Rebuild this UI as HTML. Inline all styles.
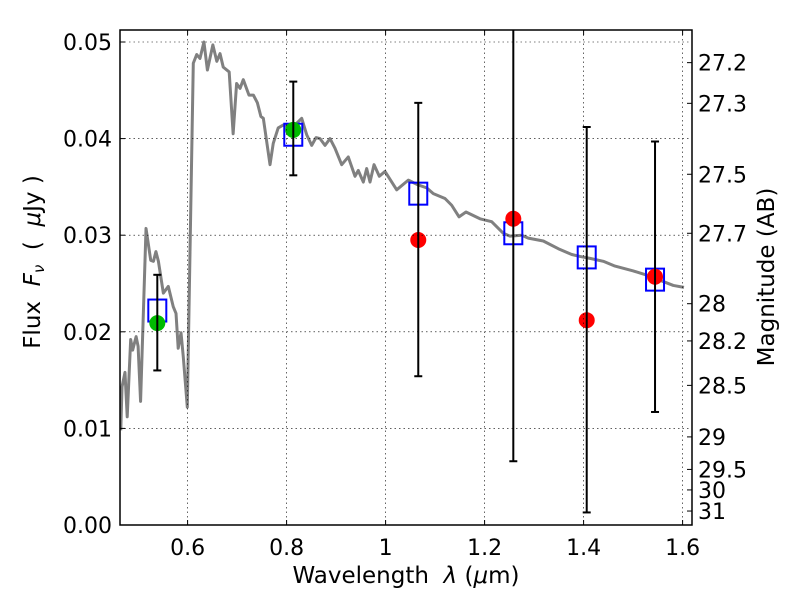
<!DOCTYPE html>
<html><head><meta charset="utf-8"><style>
body{margin:0;background:#fff}
svg text{font-family:"DejaVu Sans","Liberation Sans",sans-serif;fill:#000}
</style></head><body>
<svg id="c" width="800" height="600" viewBox="0 0 800 600" xmlns="http://www.w3.org/2000/svg" style="position:absolute;left:0;top:0"></svg>
<script>
const xTicks=[0.6,0.8,1.0,1.2,1.4,1.6];
const xTickLabels=["0.6","0.8","1","1.2","1.4","1.6"];
const yTicks=[0,0.01,0.02,0.03,0.04,0.05];
const yTickLabels=["0.00","0.01","0.02","0.03","0.04","0.05"];
const magTicks=[27.2,27.3,27.5,27.7,28,28.2,28.5,29,29.5,30,31];
const magTickLabels=["27.2","27.3","27.5","27.7","28","28.2","28.5","29","29.5","30","31"];
const specWave=[0.465,0.4675,0.4735,0.478,0.485,0.489,0.496,0.5,0.505,0.516,0.5255,0.531,0.536,0.541,0.551,0.561,0.571,0.5766,0.581,0.5867,0.5913,0.5994,0.6115,0.6184,0.625,0.633,0.64,0.651,0.659,0.6655,0.672,0.684,0.692,0.699,0.706,0.7125,0.724,0.733,0.741,0.748,0.753,0.7665,0.773,0.783,0.793,0.811,0.8305,0.8406,0.8507,0.8594,0.8675,0.8776,0.8877,0.8978,0.9113,0.9246,0.9382,0.9448,0.955,0.9618,0.9685,0.9766,0.9873,0.9988,1.0224,1.0459,1.066,1.083,1.0964,1.12,1.1335,1.1483,1.1624,1.1907,1.2143,1.2378,1.2513,1.275,1.2883,1.3186,1.3489,1.376,1.3927,1.413,1.4398,1.4634,1.5004,1.5376,1.561,1.5812,1.6028];
const specFlux=[0.0098,0.0143,0.0158,0.0112,0.0192,0.0181,0.0195,0.0185,0.0128,0.0307,0.0274,0.0273,0.0283,0.0273,0.024,0.0247,0.0226,0.0219,0.0183,0.0199,0.0174,0.0122,0.0478,0.0487,0.0483,0.05,0.0471,0.0497,0.048,0.0488,0.0474,0.0469,0.0405,0.0457,0.0452,0.0461,0.0445,0.0445,0.0437,0.0423,0.0421,0.0373,0.0395,0.0411,0.0414,0.0411,0.0421,0.0404,0.0393,0.0401,0.04,0.0393,0.04,0.039,0.0373,0.0381,0.0361,0.0367,0.0355,0.0369,0.0355,0.0373,0.0361,0.0366,0.0347,0.0357,0.0352,0.0349,0.0343,0.0338,0.0331,0.0319,0.0324,0.0317,0.0314,0.0302,0.0299,0.03,0.0297,0.0294,0.0286,0.028,0.0278,0.0276,0.0273,0.0268,0.0263,0.0257,0.0252,0.0248,0.0246];
const bandWave=[0.5388,0.8135,1.066,1.258,1.4063,1.5443];
const modelFlux=[0.0222,0.0404,0.0343,0.0302,0.0277,0.0254];
const obsFlux=[0.0209,0.0409,0.0295,0.0317,0.0212,0.0257];
const obsColor=["#00bb00","#00bb00","red","red","red","red"];
const errLow=[0.016,0.0362,0.0154,0.0066,0.0013,0.0117];
const errHigh=[0.0259,0.0459,0.0437,0.06,0.0412,0.0397];

const L=120,R=692,T=30,B=525;
const X=v=>187.6+(v-0.6)*495;
const Y=v=>B-v*9660;
const svg=document.getElementById('c');
const NS='http://www.w3.org/2000/svg';
function mk(tag,at,parent){const e=document.createElementNS(NS,tag);for(const k in at)e.setAttribute(k,at[k]);(parent||svg).appendChild(e);return e;}
const clip=mk('clipPath',{id:'pc'});mk('rect',{x:L,y:T,width:R-L,height:B-T},clip);
const plot=mk('g',{'clip-path':'url(#pc)'});



xTicks.forEach((t,i)=>{
  const x=X(t);
  const g=mk('line',{x1:x,x2:x,y1:T,y2:B,stroke:'#000','stroke-width':0.6,'stroke-dasharray':'1.5,3'});
  
  
  mk('line',{x1:x,x2:x,y1:B,y2:B-5,stroke:'#000','stroke-width':1});
  mk('line',{x1:x,x2:x,y1:T,y2:T+5,stroke:'#000','stroke-width':1});
  const tx=mk('text',{x:x,y:B+30,'font-size':22,'text-anchor':'middle'});tx.textContent=xTickLabels[i];
  
  
});
yTicks.forEach((t,i)=>{
  const y=Y(t);
  const g=mk('line',{x1:L,x2:R,y1:y,y2:y,stroke:'#000','stroke-width':0.6,'stroke-dasharray':'1.5,3'});
  
  
  mk('line',{x1:L,x2:L+5,y1:y,y2:y,stroke:'#000','stroke-width':1});
  const tx=mk('text',{x:L-8,y:y+8,'font-size':22,'text-anchor':'end'});tx.textContent=yTickLabels[i];
  
  
});
magTicks.forEach((m,i)=>{
  const y=Y(Math.pow(10,(23.9-m)/2.5));
  mk('line',{x1:R-5,x2:R,y1:y,y2:y,stroke:'#000','stroke-width':1});
  const tx=mk('text',{x:R+6,y:y+8,'font-size':22});tx.textContent=magTickLabels[i];
  
  
});

const sp=mk('polyline',{points:specWave.map((w,i)=>X(w)+','+Y(specFlux[i])).join(' '),fill:'none',stroke:'#808080','stroke-width':3,'stroke-linejoin':'round'},plot);



bandWave.forEach((w,i)=>{
  const x=X(w);
  const sq=mk('rect',{x:x-9,y:Y(modelFlux[i])-11,width:18,height:22,fill:'none',stroke:'#0000ff','stroke-width':2},plot);
  
  
  const ob=mk('circle',{cx:x,cy:Y(obsFlux[i]),r:8,fill:obsColor[i]},plot);
  
  
  const eb=mk('g',{stroke:'#000','stroke-width':2},plot);
  
  
  mk('line',{x1:x,x2:x,y1:Y(errLow[i]),y2:Y(errHigh[i])},eb);
  mk('line',{x1:x-4,x2:x+4,y1:Y(errLow[i]),y2:Y(errLow[i])},eb);
  mk('line',{x1:x-4,x2:x+4,y1:Y(errHigh[i]),y2:Y(errHigh[i])},eb);
});

const fr=mk('rect',{x:L,y:T,width:R-L,height:B-T,fill:'none',stroke:'#000','stroke-width':1.5});


</script>
<svg width="800" height="600" style="position:absolute;left:0;top:0">
<text x="406" y="583" font-size="23" text-anchor="middle" font-family="DejaVu Sans, sans-serif">Wavelength&#160;&#160;<tspan font-style="italic">λ</tspan>&#160;(<tspan font-style="italic">μ</tspan>m)</text>
<text transform="translate(40,262) rotate(-90)" font-size="23" text-anchor="middle" font-family="DejaVu Sans, sans-serif">Flux&#160;&#160;<tspan font-style="italic">F</tspan><tspan font-style="italic" font-size="15" dy="4">ν</tspan><tspan dy="-4">&#160;&#160;(&#160;&#160;</tspan><tspan font-style="italic">μ</tspan>Jy )</text>
<text transform="translate(774,277) rotate(-90)" font-size="23" text-anchor="middle" font-family="DejaVu Sans, sans-serif">Magnitude (AB)</text>
</svg>
</body></html>
